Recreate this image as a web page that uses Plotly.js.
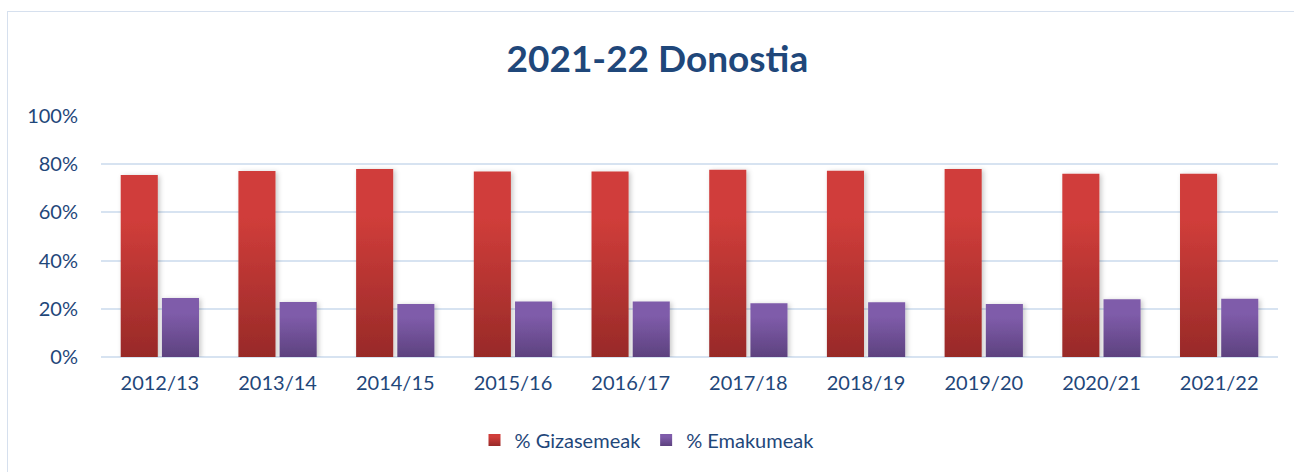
<!DOCTYPE html>
<html><head><meta charset="utf-8">
<script src="https://cdn.plot.ly/plotly-3.0.1.min.js"></script>
<style>
html,body{margin:0;padding:0;background:#fff;overflow:hidden}
#frame{position:absolute;left:7px;top:11px;width:1400px;height:600px;border:1px solid #D6E0EE;box-sizing:border-box}
#chart{position:absolute;left:0;top:0;width:1294px;height:472px}
</style></head>
<body>
<div id="frame"></div>
<div id="chart"></div>
<script>
const categories = ["2012/13","2013/14","2014/15","2015/16","2016/17","2017/18","2018/19","2019/20","2020/21","2021/22"];
const gizasemeak = [0.755,0.772,0.780,0.770,0.770,0.777,0.773,0.780,0.760,0.760];
const emakumeak  = [0.245,0.228,0.220,0.230,0.230,0.223,0.227,0.220,0.240,0.242];
const seriesNames = ["% Gizasemeak","% Emakumeak"];
const titleText = "2021-22 Donostia";

const txt = "#1F477A";
const font = "Lato, 'Open Sans', sans-serif";
const data = [
  {type:"bar", name:seriesNames[0], x:categories, y:gizasemeak, marker:{color:"#B73330"}, hoverinfo:"skip"},
  {type:"bar", name:seriesNames[1], x:categories, y:emakumeak, marker:{color:"#6E4F96"}, hoverinfo:"skip"}
];
const layout = {
  width:1294, height:472,
  margin:{l:101, r:16, t:116, b:115, autoexpand:false},
  paper_bgcolor:"rgba(0,0,0,0)", plot_bgcolor:"rgba(0,0,0,0)",
  barmode:"group", bargap:0.30, bargroupgap:0.1,
  title:{text:"<b>"+titleText+"</b>", x:0.508, xanchor:"center", yref:"container", y:0.875, yanchor:"middle", font:{family:font, size:37, color:txt}},
  font:{family:font, size:20, color:txt},
  xaxis:{type:"category", showgrid:false, zeroline:false, showline:false, ticks:"", tickfont:{size:20,color:txt}, ticklabelstandoff:12, automargin:false},
  yaxis:{range:[0,1], dtick:0.2, tickformat:".0%", showgrid:true, gridcolor:"#D7E3F1", gridwidth:2, zeroline:true, zerolinecolor:"#D7E3F1", zerolinewidth:2, showline:false, ticks:"", ticklabelstandoff:22, tickfont:{size:20,color:txt}, automargin:false},
  legend:{orientation:"h", x:0.5, xanchor:"center", xref:"container", yref:"container", y:0.068, yanchor:"middle", font:{size:20,color:txt}, traceorder:"normal", entrywidth:0},
  showlegend:true
};
Plotly.newPlot("chart", data, layout, {staticPlot:true, displayModeBar:false}).then(addGradients);

function addGradients(gd){
  const svg = gd.querySelector("svg.main-svg");
  const NS = "http://www.w3.org/2000/svg";
  let defs = svg.querySelector("defs");
  const grads = [["gRed","#D03D3A","#982A28"],["gPur","#7F5CAA","#5D427F"]];
  grads.forEach(([id,c1,c2])=>{
    const lg = document.createElementNS(NS,"linearGradient");
    lg.setAttribute("id",id); lg.setAttribute("x1","0"); lg.setAttribute("y1","0"); lg.setAttribute("x2","0"); lg.setAttribute("y2","1");
    lg.setAttribute("gradientUnits","objectBoundingBox");
    const s1=document.createElementNS(NS,"stop"); s1.setAttribute("offset","0.25"); s1.setAttribute("stop-color",c1);
    const s2=document.createElementNS(NS,"stop"); s2.setAttribute("offset","1"); s2.setAttribute("stop-color",c2);
    lg.appendChild(s1); lg.appendChild(s2); defs.appendChild(lg);
  });
  const f = document.createElementNS(NS,"filter");
  f.setAttribute("id","shadow"); f.setAttribute("x","-30%"); f.setAttribute("y","-10%"); f.setAttribute("width","160%"); f.setAttribute("height","120%");
  f.innerHTML = '<feDropShadow dx="2" dy="1" stdDeviation="2.5" flood-color="#000" flood-opacity="0.22"/>';
  defs.appendChild(f);
  const traces = svg.querySelectorAll(".barlayer .trace");
  traces.forEach((t,i)=>{
    t.querySelectorAll("path").forEach(p=>{
      p.style.fill = "url(#"+grads[i][0]+")";
      p.style.filter = "url(#shadow)";
    });
  });
  const leg = gd.querySelectorAll(".legend .traces");
  leg.forEach((t,i)=>{
    t.querySelectorAll(".legendpoints path").forEach(p=>{ p.style.fill="url(#"+grads[i][0]+")"; });
  });
}
</script>
</body></html>
